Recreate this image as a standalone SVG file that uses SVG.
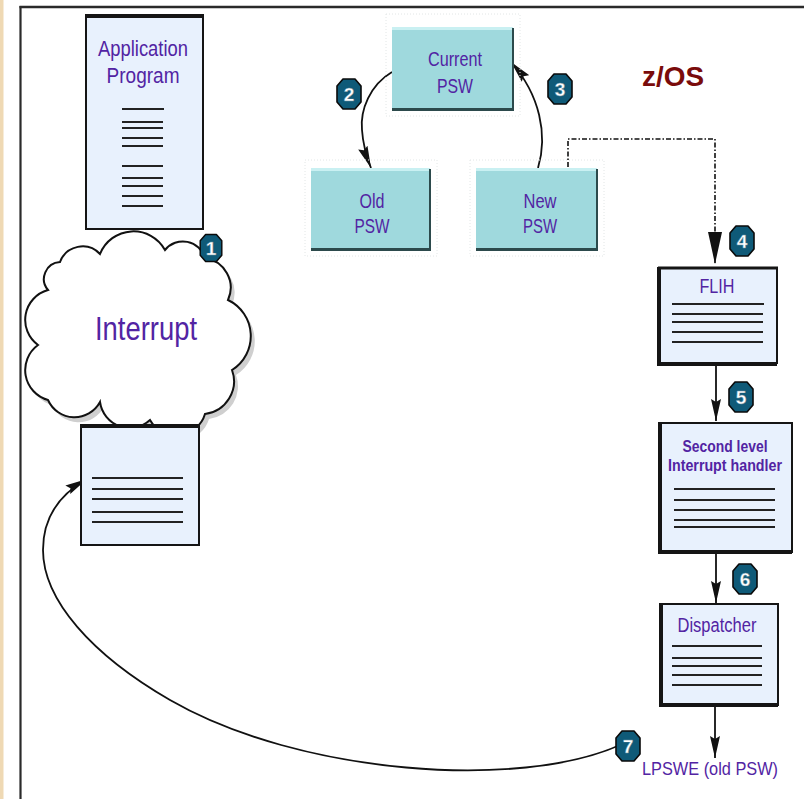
<svg xmlns="http://www.w3.org/2000/svg" width="804" height="799" viewBox="0 0 804 799">
  <style>
    .lbl { font-family: "Liberation Sans Narrow", "Liberation Sans", Arial, sans-serif; fill: #5224a3; text-anchor: middle; }
    .doc { fill: #e8f1fd; stroke: #151515; stroke-width: 2; }
    .edge { stroke: #151515; stroke-width: 4; fill: none; }
    .rule { stroke: #222; stroke-width: 2; fill: none; }
    .psw { fill: #9fd9dd; }
    .psw-hi { fill: #c9f0f2; }
    .psw-sh { fill: #2c4a4c; }
    .psw-halo { fill: none; stroke: #e2e6e6; stroke-width: 1; stroke-dasharray: 1 2; }
    .conn { fill: none; stroke: #111; stroke-width: 1.8; }
    .dotted { fill: none; stroke: #111; stroke-width: 1.6; stroke-dasharray: 5 2 1.5 2; }
    .badge { fill: #0f5a78; stroke: #0a0a0a; stroke-width: 1.6; stroke-linejoin: round; }
    .num { font-family: "Liberation Sans Narrow", "Liberation Sans", Arial, sans-serif; font-weight: bold; font-size: 19px; fill: #ffffff; text-anchor: middle; stroke: #6b8ea0; stroke-width: 0.4; }
  </style>
  <defs>
    <marker id="head" markerUnits="userSpaceOnUse" viewBox="0 0 22 11" markerWidth="22" markerHeight="11" refX="22" refY="5.5" orient="auto">
      <path d="M0,0.5 L22,5.5 L0,10.5 L3,5.5 z" fill="#111"/>
    </marker>
    <marker id="headBig" markerUnits="userSpaceOnUse" viewBox="0 0 32 14" markerWidth="32" markerHeight="14" refX="32" refY="7" orient="auto">
      <path d="M0,0 L32,7 L0,14 z" fill="#111"/>
    </marker>
    <path id="oct" d="M-6,-15 L6,-15 L12,-8 L12,8 L6,15 L-6,15 L-12,8 L-12,-8 z"/>
  </defs>

  <!-- page frame -->
  <rect x="0" y="0" width="804" height="799" fill="#ffffff"/>
  <rect x="0" y="0" width="3.5" height="799" fill="#efd9b4"/>
  <line x1="20.5" y1="6" x2="20.5" y2="799" stroke="#2a2a2a" stroke-width="2.2"/>
  <line x1="19.5" y1="7" x2="804" y2="7" stroke="#2a2a2a" stroke-width="2.4"/>

  <!-- title -->
  <text x="673" y="86" font-family="Liberation Sans, Arial, sans-serif" font-weight="bold" font-size="28" fill="#7a0b0b" text-anchor="middle" textLength="62" lengthAdjust="spacingAndGlyphs">z/OS</text>

  <!-- connectors -->
  <g id="connectors">
    <path class="conn" d="M392,72 C370,85 360,110 362,130 C363,145 367,158 371,168" marker-end="url(#head)"/>
    <path class="conn" d="M538,168 C548,135 540,95 511,62" marker-end="url(#head)"/>
    <path class="dotted" d="M568,167 L568,139 L715,139 L715,264" marker-end="url(#headBig)"/>
    <path class="conn" d="M716,364 L716,421" marker-end="url(#head)"/>
    <path class="conn" d="M716,553 L716,603" marker-end="url(#head)"/>
    <path class="conn" d="M715,707 L715,758" marker-end="url(#head)"/>
    <path class="conn" d="M620,745 C520,790 300,775 170,700 C92,655 43,600 43,550 C43,515 62,493 87,479" marker-end="url(#head)"/>
  </g>

  <!-- application program -->
  <g id="app-program">
    <rect class="doc" x="86" y="16" width="117" height="213"/>
    <line class="edge" x1="85" y1="16" x2="204" y2="16"/>
    <text class="lbl" x="143" y="56" font-size="22" textLength="90" lengthAdjust="spacingAndGlyphs">Application</text>
    <text class="lbl" x="143" y="83" font-size="22" textLength="73" lengthAdjust="spacingAndGlyphs">Program</text>
    <path class="rule" d="M122,109 H164 M122,122 H163 M122,128 H163 M122,138 H163 M122,146 H163 M122,166 H163 M122,178 H163 M122,186 H163 M122,196 H163 M122,206 H163"/>
  </g>

  <!-- interrupt cloud -->
  <g id="interrupt">
    <path transform="translate(4,5)" fill="#cfcfcf" d="M60,262 A24,24 0 0 1 100,254 A36,36 0 0 1 165,250 A23,23 0 0 1 205,258 A30,30 0 0 1 228,300 A40,40 0 0 1 232,370 A33,33 0 0 1 205,414 A30,30 0 0 1 150,420 A30,30 0 0 1 100,402 A29,29 0 0 1 48,400 A31,31 0 0 1 38,345 A31,31 0 0 1 48,290 A17,17 0 0 1 60,262 z"/>
    <path fill="#ffffff" stroke="#111" stroke-width="2" d="M60,262 A24,24 0 0 1 100,254 A36,36 0 0 1 165,250 A23,23 0 0 1 205,258 A30,30 0 0 1 228,300 A40,40 0 0 1 232,370 A33,33 0 0 1 205,414 A30,30 0 0 1 150,420 A30,30 0 0 1 100,402 A29,29 0 0 1 48,400 A31,31 0 0 1 38,345 A31,31 0 0 1 48,290 A17,17 0 0 1 60,262 z"/>
    <text class="lbl" x="146" y="340" font-size="34" textLength="102" lengthAdjust="spacingAndGlyphs">Interrupt</text>
  </g>

  <!-- handler stub below the cloud -->
  <g id="saved-program">
    <rect class="doc" x="81" y="426" width="118" height="119"/>
    <line class="edge" x1="80" y1="426" x2="200" y2="426"/>
    <path class="rule" d="M92,478 H183 M92,489 H183 M92,499 H183 M92,512 H183 M92,522 H183"/>
  </g>

  <!-- PSW boxes -->
  <g id="current-psw">
    <rect class="psw-halo" x="386" y="14" width="134" height="102"/>
    <rect class="psw" x="392" y="27" width="121" height="83"/>
    <rect class="psw-hi" x="392" y="27" width="121" height="3"/>
    <rect class="psw-sh" x="392" y="108" width="122" height="3"/>
    <rect class="psw-sh" x="512" y="28" width="2" height="83"/>
    <text class="lbl" x="455" y="66" font-size="21" textLength="54" lengthAdjust="spacingAndGlyphs">Current</text>
    <text class="lbl" x="455" y="93" font-size="21" textLength="36" lengthAdjust="spacingAndGlyphs">PSW</text>
  </g>
  <g id="old-psw">
    <rect class="psw-halo" x="305" y="160" width="132" height="96"/>
    <rect class="psw" x="311" y="168" width="119" height="82"/>
    <rect class="psw-hi" x="311" y="168" width="119" height="3"/>
    <rect class="psw-sh" x="311" y="248" width="120" height="3"/>
    <rect class="psw-sh" x="429" y="169" width="2" height="82"/>
    <text class="lbl" x="372" y="208" font-size="21" textLength="25" lengthAdjust="spacingAndGlyphs">Old</text>
    <text class="lbl" x="372" y="233" font-size="21" textLength="35" lengthAdjust="spacingAndGlyphs">PSW</text>
  </g>
  <g id="new-psw">
    <rect class="psw-halo" x="470" y="160" width="134" height="96"/>
    <rect class="psw" x="476" y="168" width="121" height="82"/>
    <rect class="psw-hi" x="476" y="168" width="121" height="3"/>
    <rect class="psw-sh" x="476" y="248" width="122" height="3"/>
    <rect class="psw-sh" x="596" y="169" width="2" height="82"/>
    <text class="lbl" x="540" y="208" font-size="21" textLength="33" lengthAdjust="spacingAndGlyphs">New</text>
    <text class="lbl" x="540" y="233" font-size="21" textLength="34" lengthAdjust="spacingAndGlyphs">PSW</text>
  </g>

  <!-- first level interrupt handler -->
  <g id="flih">
    <rect class="doc" x="659" y="268" width="118" height="95"/>
    <path class="edge" d="M659,267 V364 H777" stroke-width="3.5"/>
    <line x1="658" y1="268" x2="778" y2="268" stroke="#151515" stroke-width="3"/>
    <text class="lbl" x="717" y="293" font-size="21" textLength="35" lengthAdjust="spacingAndGlyphs">FLIH</text>
    <path class="rule" d="M672,304 H764 M672,314 H763 M672,322 H763 M672,332 H763 M672,342 H763"/>
  </g>

  <!-- second level interrupt handler -->
  <g id="slih">
    <rect class="doc" x="660" y="423" width="132" height="129"/>
    <path class="edge" d="M660,422 V552 H792" stroke-width="3.5"/>
    <text class="lbl" x="725" y="452" font-size="17" font-weight="bold" textLength="85" lengthAdjust="spacingAndGlyphs">Second level</text>
    <text class="lbl" x="725" y="471" font-size="17" font-weight="bold" textLength="114" lengthAdjust="spacingAndGlyphs">Interrupt handler</text>
    <path class="rule" d="M674,489 H775 M674,500 H775 M674,510 H775 M674,520 H775 M674,527 H775"/>
  </g>

  <!-- dispatcher -->
  <g id="dispatcher">
    <rect class="doc" x="661" y="604" width="117" height="101"/>
    <path class="edge" d="M661,603 V705 H778" stroke-width="3.5"/>
    <text class="lbl" x="717" y="632" font-size="20" textLength="79" lengthAdjust="spacingAndGlyphs">Dispatcher</text>
    <path class="rule" d="M672,646 H762 M672,658 H762 M672,666 H762 M672,675 H762 M672,685 H762"/>
  </g>

  <!-- return instruction -->
  <g id="lpswe">
    <text class="lbl" x="642" y="775" font-size="18" style="text-anchor:start" textLength="136" lengthAdjust="spacingAndGlyphs">LPSWE (old PSW)</text>
  </g>

  <!-- step badges -->
  <g id="badge-1"><use href="#oct" class="badge" transform="translate(211,248) scale(0.9)"/><text class="num" x="211" y="255" font-size="17">1</text></g>
  <g id="badge-2"><use href="#oct" class="badge" transform="translate(349,94)"/><text class="num" x="349" y="101">2</text></g>
  <g id="badge-3"><use href="#oct" class="badge" transform="translate(560,89)"/><text class="num" x="560" y="96">3</text></g>
  <g id="badge-4"><use href="#oct" class="badge" transform="translate(742,241)"/><text class="num" x="742" y="248">4</text></g>
  <g id="badge-5"><use href="#oct" class="badge" transform="translate(741,397)"/><text class="num" x="741" y="404">5</text></g>
  <g id="badge-6"><use href="#oct" class="badge" transform="translate(745,579)"/><text class="num" x="745" y="586">6</text></g>
  <g id="badge-7"><use href="#oct" class="badge" transform="translate(628,746)"/><text class="num" x="628" y="753">7</text></g>
</svg>
